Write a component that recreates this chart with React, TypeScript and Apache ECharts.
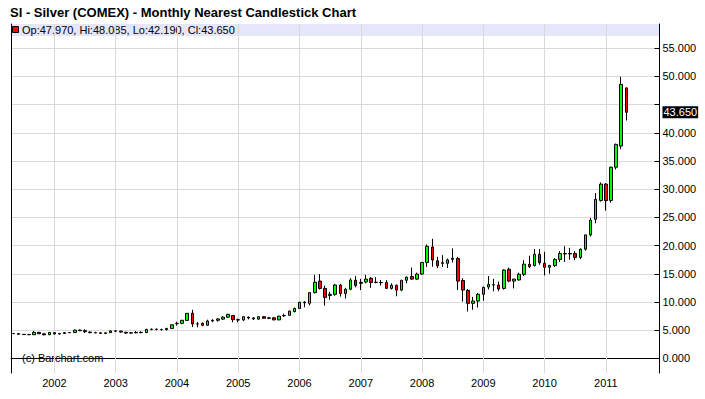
import React, { useEffect, useRef } from 'react';
import * as echarts from 'echarts';

const chartTitle = 'SI - Silver (COMEX) - Monthly Nearest Candlestick Chart';
const copyrightText = '(c) Barchart.com';

// Monthly candles from 2001-05 to 2011-05
const opens = [
  4.40, 4.38, 4.25, 4.22, 4.18, 4.60, 4.35, 4.18,
  4.56, 4.32, 4.40, 4.55, 4.58, 5.00, 4.90, 4.65, 4.55, 4.52, 4.42, 4.55,
  4.85, 4.82, 4.62, 4.48, 4.52, 4.60, 4.55, 5.12, 5.15, 5.12, 5.10, 5.30,
  6.15, 6.20, 6.72, 8.00, 6.10, 6.22, 5.85, 6.62, 6.75, 6.95, 7.30, 7.60,
  6.85, 6.80, 7.30, 7.15, 6.95, 7.38, 7.10, 7.18, 6.82, 7.55, 7.62, 8.30,
  8.85, 9.95, 9.75, 11.65, 13.70, 12.40, 11.15, 11.35, 13.00, 11.50, 12.25, 13.85,
  13.30, 13.55, 14.20, 13.45, 13.45, 13.45, 12.40, 12.95, 12.10, 13.85, 14.50, 14.05,
  14.95, 17.00, 19.75, 17.30, 16.95, 16.85, 17.55, 17.70, 13.80, 12.05, 9.75, 10.15,
  11.35, 12.65, 13.05, 13.00, 12.40, 15.80, 13.70, 13.90, 14.90, 16.70, 16.45, 18.45,
  16.85, 16.15, 16.45, 17.55, 18.60, 18.50, 18.60, 17.90, 19.35, 21.90, 24.65, 28.00,
  30.90, 28.00, 33.90, 37.65, 47.97,
];
const closes = [
  4.38, 4.25, 4.22, 4.18, 4.60, 4.35, 4.18, 4.58,
  4.32, 4.40, 4.55, 4.58, 5.00, 4.90, 4.72, 4.55, 4.52, 4.42, 4.52, 4.85,
  4.82, 4.65, 4.48, 4.52, 4.60, 4.55, 5.12, 5.15, 5.12, 5.10, 5.30, 5.95,
  6.20, 6.75, 7.98, 6.10, 6.10, 5.85, 6.62, 6.72, 6.98, 7.30, 7.80, 6.85,
  6.80, 7.38, 7.15, 7.00, 7.38, 7.10, 7.18, 6.82, 7.48, 7.58, 8.38, 8.85,
  9.95, 9.85, 11.65, 13.50, 12.40, 10.80, 11.35, 13.00, 11.50, 12.25, 13.90, 12.90,
  13.45, 14.05, 13.45, 13.50, 13.40, 12.40, 12.95, 12.10, 13.85, 14.40, 14.05, 14.95,
  17.00, 19.85, 17.45, 16.40, 16.85, 17.45, 17.75, 13.70, 12.10, 9.75, 10.15, 11.35,
  12.60, 13.10, 13.00, 12.30, 15.65, 13.70, 14.05, 14.90, 16.70, 16.25, 18.45, 16.95,
  16.15, 16.45, 17.55, 18.60, 18.50, 18.60, 17.90, 19.35, 21.90, 24.50, 28.20, 30.90,
  28.00, 33.90, 37.95, 48.60, 43.65,
];
const highs = [
  4.50, 4.42, 4.30, 4.35, 4.82, 4.68, 4.40, 4.62,
  4.65, 4.50, 4.65, 4.62, 5.10, 5.10, 5.15, 4.75, 4.70, 4.60, 4.60, 4.95,
  5.00, 4.90, 4.70, 4.65, 4.85, 4.80, 5.25, 5.30, 5.30, 5.25, 5.40, 6.00,
  6.50, 6.80, 8.00, 8.60, 6.45, 6.35, 6.85, 6.95, 7.10, 7.45, 7.90, 7.70,
  7.05, 7.45, 7.40, 7.30, 7.45, 7.50, 7.35, 7.35, 7.55, 7.90, 8.45, 9.00,
  10.00, 10.15, 11.75, 14.80, 14.95, 12.90, 11.80, 13.20, 13.20, 12.50, 14.20, 14.60,
  14.10, 14.80, 14.40, 14.40, 13.90, 13.90, 13.30, 13.10, 13.90, 14.50, 16.10, 15.20,
  17.10, 20.20, 21.20, 18.00, 18.30, 17.70, 19.50, 18.00, 14.20, 12.30, 10.90, 11.60,
  12.70, 14.60, 14.10, 13.60, 15.80, 16.10, 14.10, 15.20, 17.40, 18.20, 19.40, 19.40,
  18.90, 16.60, 17.80, 19.00, 19.90, 19.60, 19.00, 19.50, 21.90, 24.90, 29.30, 31.20,
  31.10, 34.00, 38.10, 49.95, 48.085,
];
const lows = [
  4.32, 4.22, 4.12, 4.15, 4.15, 4.35, 4.05, 4.15,
  4.22, 4.20, 4.35, 4.45, 4.55, 4.82, 4.50, 4.45, 4.45, 4.35, 4.38, 4.50,
  4.70, 4.55, 4.35, 4.40, 4.45, 4.45, 4.50, 4.95, 4.95, 4.90, 4.95, 5.25,
  5.80, 6.05, 6.65, 5.55, 5.50, 5.70, 5.80, 6.40, 6.50, 6.85, 7.15, 6.40,
  6.40, 6.60, 6.90, 6.80, 6.85, 7.00, 6.95, 6.75, 6.75, 7.35, 7.55, 8.15,
  8.75, 9.05, 9.40, 11.50, 12.20, 9.35, 10.40, 11.10, 10.95, 10.60, 12.10, 12.60,
  12.10, 13.30, 12.50, 13.30, 12.90, 12.30, 12.20, 11.00, 11.90, 13.30, 13.90, 13.90,
  14.80, 16.20, 16.25, 16.00, 16.20, 16.00, 17.00, 12.10, 10.05, 8.30, 8.60, 9.00,
  10.20, 12.20, 11.90, 11.90, 12.20, 13.50, 12.40, 13.80, 14.60, 16.00, 16.30, 16.60,
  14.70, 15.00, 16.20, 17.10, 17.10, 17.50, 17.40, 17.60, 19.10, 21.60, 23.95, 27.80,
  26.20, 27.60, 33.50, 37.10, 42.19,
];

// axis months: 2001-05 .. 2011-11
const months: string[] = [];
{
  let y = 2001;
  let m = 5;
  while (y < 2011 || (y === 2011 && m <= 11)) {
    months.push(`${y}-${String(m).padStart(2, '0')}`);
    m++;
    if (m > 12) {
      m = 1;
      y++;
    }
  }
}
const yearStarts = months.filter((v) => v.endsWith('-01'));

const FONT = '"Liberation Sans", Arial, sans-serif';
const GRID_LINE = '#d9d9d9';

export default function App() {
  const ref = useRef<HTMLDivElement>(null);

  useEffect(() => {
    if (!ref.current) return;
    const chart = echarts.init(ref.current, undefined, { renderer: 'svg' });

    const candles = opens.map((o, i) => [o, closes[i], lows[i], highs[i]]);
    const n = opens.length - 1;
    const lastClose = closes[n];
    const legendText = `Op:${opens[n].toFixed(3)}, Hi:${highs[n].toFixed(3)}, Lo:${lows[n].toFixed(3)}, Cl:${closes[n].toFixed(3)}`;

    const gridLeft = 11;
    const gridRight = 45.5;
    const outerTop = 24;
    const outerBottom = 26;
    const innerTop = 48.3;
    const innerBottom = 40.7;
    // value range of the outer frame, aligned with the 0..55 inner scale
    const pxPerUnit = (399 - innerBottom - innerTop) / 55;
    const outerMax = 55 + (innerTop - outerTop) / pxPerUnit;
    const outerMin = -(innerBottom - outerBottom) / pxPerUnit;

    const option: any = {
      animation: false,
      backgroundColor: '#ffffff',
      textStyle: { fontFamily: FONT },
      grid: [
        { left: gridLeft, right: gridRight, top: outerTop, bottom: outerBottom },
        { left: gridLeft, right: gridRight, top: innerTop, bottom: innerBottom },
      ],
      xAxis: [
        {
          type: 'category',
          gridIndex: 0,
          data: months,
          boundaryGap: true,
          axisLine: { show: true, lineStyle: { color: '#000', width: 1 } },
          axisTick: { show: false },
          splitLine: { show: false },
          axisLabel: {
            interval: (_i: number, v: string) => v.endsWith('-01'),
            formatter: (v: string) => v.slice(0, 4),
            color: '#000',
            fontSize: 11,
            fontFamily: FONT,
            margin: 4,
          },
        },
        {
          type: 'category',
          gridIndex: 1,
          data: months,
          boundaryGap: true,
          show: false,
        },
      ],
      yAxis: [
        {
          type: 'value',
          gridIndex: 0,
          position: 'left',
          min: outerMin,
          max: outerMax,
          axisLine: { show: true, onZero: false, lineStyle: { color: '#000', width: 1 } },
          axisTick: { show: false },
          axisLabel: { show: false },
          splitLine: { show: false },
        },
        {
          type: 'value',
          gridIndex: 1,
          position: 'right',
          min: 0,
          max: 55,
          interval: 5,
          axisLine: { show: false },
          axisTick: { show: true, inside: true, length: 5, lineStyle: { color: '#000' } },
          axisLabel: {
            // the last-price flag covers the nearest tick label
            formatter: (v: number) => (Math.abs(v - lastClose) < 2.5 ? '' : v.toFixed(3)),
            color: '#000',
            fontSize: 11,
            fontFamily: FONT,
            margin: 3,
          },
          splitLine: { show: true, lineStyle: { color: GRID_LINE, width: 1 } },
        },
        {
          type: 'value',
          gridIndex: 0,
          position: 'right',
          min: outerMin,
          max: outerMax,
          axisLine: { show: true, onZero: false, lineStyle: { color: '#000', width: 1 } },
          axisTick: { show: false },
          axisLabel: { show: false },
          splitLine: { show: false },
        },
      ],
      series: [
        {
          type: 'candlestick',
          xAxisIndex: 0,
          yAxisIndex: 0,
          data: candles,
          barWidth: 3,
          itemStyle: {
            color: '#00ff00',
            color0: '#ff0000',
            borderColor: '#000000',
            borderColor0: '#000000',
            borderColorDoji: '#000000',
            borderWidth: 1,
          },
          markLine: {
            silent: true,
            symbol: ['none', 'none'],
            z: 1,
            animation: false,
            label: { show: false },
            lineStyle: { color: GRID_LINE, width: 1, type: 'solid' },
            emphasis: { disabled: true },
            data: [
              ...yearStarts.map((v) => ({ xAxis: v })),
              {
                yAxis: lastClose,
                lineStyle: { color: 'rgba(0,0,0,0)', width: 0, opacity: 1 },
                label: {
                  show: true,
                  position: 'end',
                  distance: 3,
                  formatter: lastClose.toFixed(3),
                  color: '#ffffff',
                  opacity: 1,
                  backgroundColor: '#000000',
                  padding: [1, 1, 0, 1],
                  fontSize: 11,
                  fontFamily: FONT,
                },
              },
            ],
          },
        },
      ],
      graphic: [
        {
          type: 'rect',
          z: -1,
          silent: true,
          shape: { x: gridLeft, y: outerTop, width: 705 - gridRight - gridLeft, height: 12 },
          style: { fill: '#e6e6fa' },
        },
        {
          type: 'rect',
          silent: true,
          shape: { x: 12.5, y: 26.5, width: 6, height: 6 },
          style: { fill: '#ff0000', stroke: '#000000', lineWidth: 1 },
        },
        {
          type: 'text',
          silent: true,
          x: 22,
          y: 30,
          style: {
            text: legendText,
            fill: '#000',
            fontSize: 11,
            fontFamily: FONT,
            verticalAlign: 'middle',
          },
        },
        {
          type: 'text',
          silent: true,
          x: 10,
          y: 12,
          style: {
            text: chartTitle,
            fill: '#000',
            fontSize: 13,
            fontWeight: 'bold',
            fontFamily: FONT,
            verticalAlign: 'middle',
          },
        },
        {
          type: 'text',
          silent: true,
          x: 22,
          y: 358,
          style: {
            text: copyrightText,
            fill: '#000',
            fontSize: 11,
            fontFamily: FONT,
            verticalAlign: 'middle',
          },
        },
      ],
    };

    chart.setOption(option);
    return () => {
      chart.dispose();
    };
  }, []);

  return (
    <div
      ref={ref}
      style={{ position: 'absolute', left: 0, top: 0, width: 705, height: 399 }}
    />
  );
}
